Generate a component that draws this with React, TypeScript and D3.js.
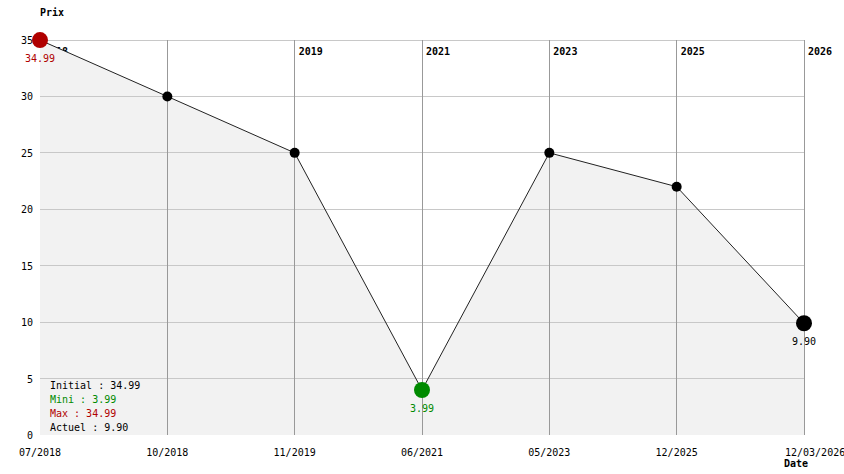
import React from "react";
import * as d3 from "d3";

const dateLabels = ["07/2018", "10/2018", "11/2019", "06/2021", "05/2023", "12/2025", "12/03/2026"];
const yearLabels = ["2018", "", "2019", "2021", "2023", "2025", "2026"];
const prices = [34.99, 30, 25, 3.99, 25, 22, 9.9];
const yTicks = [0, 5, 10, 15, 20, 25, 30, 35];
const legendLines = [
  { text: "Initial : 34.99", color: "#000" },
  { text: "Mini : 3.99", color: "#008a00" },
  { text: "Max : 34.99", color: "#b00000" },
  { text: "Actuel : 9.90", color: "#000" },
];

const W = 844, H = 474;
const FONT = "'DejaVu Sans Mono', monospace";

export default function App() {
  const x = d3.scalePoint<string>().domain(dateLabels).range([40, 804]);
  const y = d3.scaleLinear().domain([0, 35]).range([435, 40]);
  const pts = prices.map((v, i) => [x(dateLabels[i]) as number, y(v)] as [number, number]);
  const line = d3.line()(pts) || "";
  const area = d3.area<[number, number]>().x(d => d[0]).y0(y(0)).y1(d => d[1])(pts) || "";
  const minV = d3.min(prices)!;
  const maxV = d3.max(prices)!;
  const iMin = prices.indexOf(minV);
  const iMax = prices.indexOf(maxV);
  const last = prices.length - 1;

  return (
    <svg width={W} height={H} style={{ position: "absolute", left: 0, top: 0, background: "#fff" }} fontFamily={FONT} fontSize={10}>
      {yearLabels.map((t, i) => t ? (
        <text key={i} x={(x(dateLabels[i]) as number) + 4} y={55} fontWeight="bold" fill="#000">{t}</text>
      ) : null)}
      <path d={area} fill="#f2f2f2" />
      {yTicks.filter(t => t > 0).map(t => (
        <line key={t} x1={40} x2={804} y1={y(t)} y2={y(t)} stroke="#c8c8c8" strokeWidth={1} shapeRendering="crispEdges" />
      ))}
      {dateLabels.map((d, i) => i === 0 ? null : (
        <line key={d} x1={x(d)} x2={x(d)} y1={y(35)} y2={y(0)} stroke="#999" strokeWidth={1} shapeRendering="crispEdges" />
      ))}
      {yTicks.map(t => (
        <text key={t} x={33} y={y(t) + 4} textAnchor="end" fill="#000">{t}</text>
      ))}
      {dateLabels.map((d, i) => (
        <text key={d} x={i === last ? 785 : (x(d) as number)} y={456} textAnchor={i === last ? "start" : "middle"} fill="#000">{d}</text>
      ))}
      <text x={40} y={16} fontWeight="bold" fill="#000">Prix</text>
      <text x={784} y={467} fontWeight="bold" fill="#000">Date</text>
      <path d={line} fill="none" stroke="#222" strokeWidth={1} />
      {pts.map((p, i) => {
        if (i === iMin || i === iMax || i === last) return null;
        return <circle key={i} cx={p[0]} cy={p[1]} r={5} fill="#000" />;
      })}
      <circle cx={pts[iMax][0]} cy={pts[iMax][1]} r={8} fill="#b00000" />
      <circle cx={pts[iMin][0]} cy={pts[iMin][1]} r={8} fill="#008a00" />
      <circle cx={pts[last][0]} cy={pts[last][1]} r={8} fill="#000" />
      <text x={pts[iMax][0]} y={pts[iMax][1] + 22} textAnchor="middle" fill="#b00000">{maxV.toFixed(2)}</text>
      <text x={pts[iMin][0]} y={pts[iMin][1] + 22} textAnchor="middle" fill="#008a00">{minV.toFixed(2)}</text>
      <text x={pts[last][0]} y={pts[last][1] + 22} textAnchor="middle" fill="#000">{prices[last].toFixed(2)}</text>
      {legendLines.map((l, i) => (
        <text key={i} x={50} y={389 + i * 14} fill={l.color}>{l.text}</text>
      ))}
    </svg>
  );
}
